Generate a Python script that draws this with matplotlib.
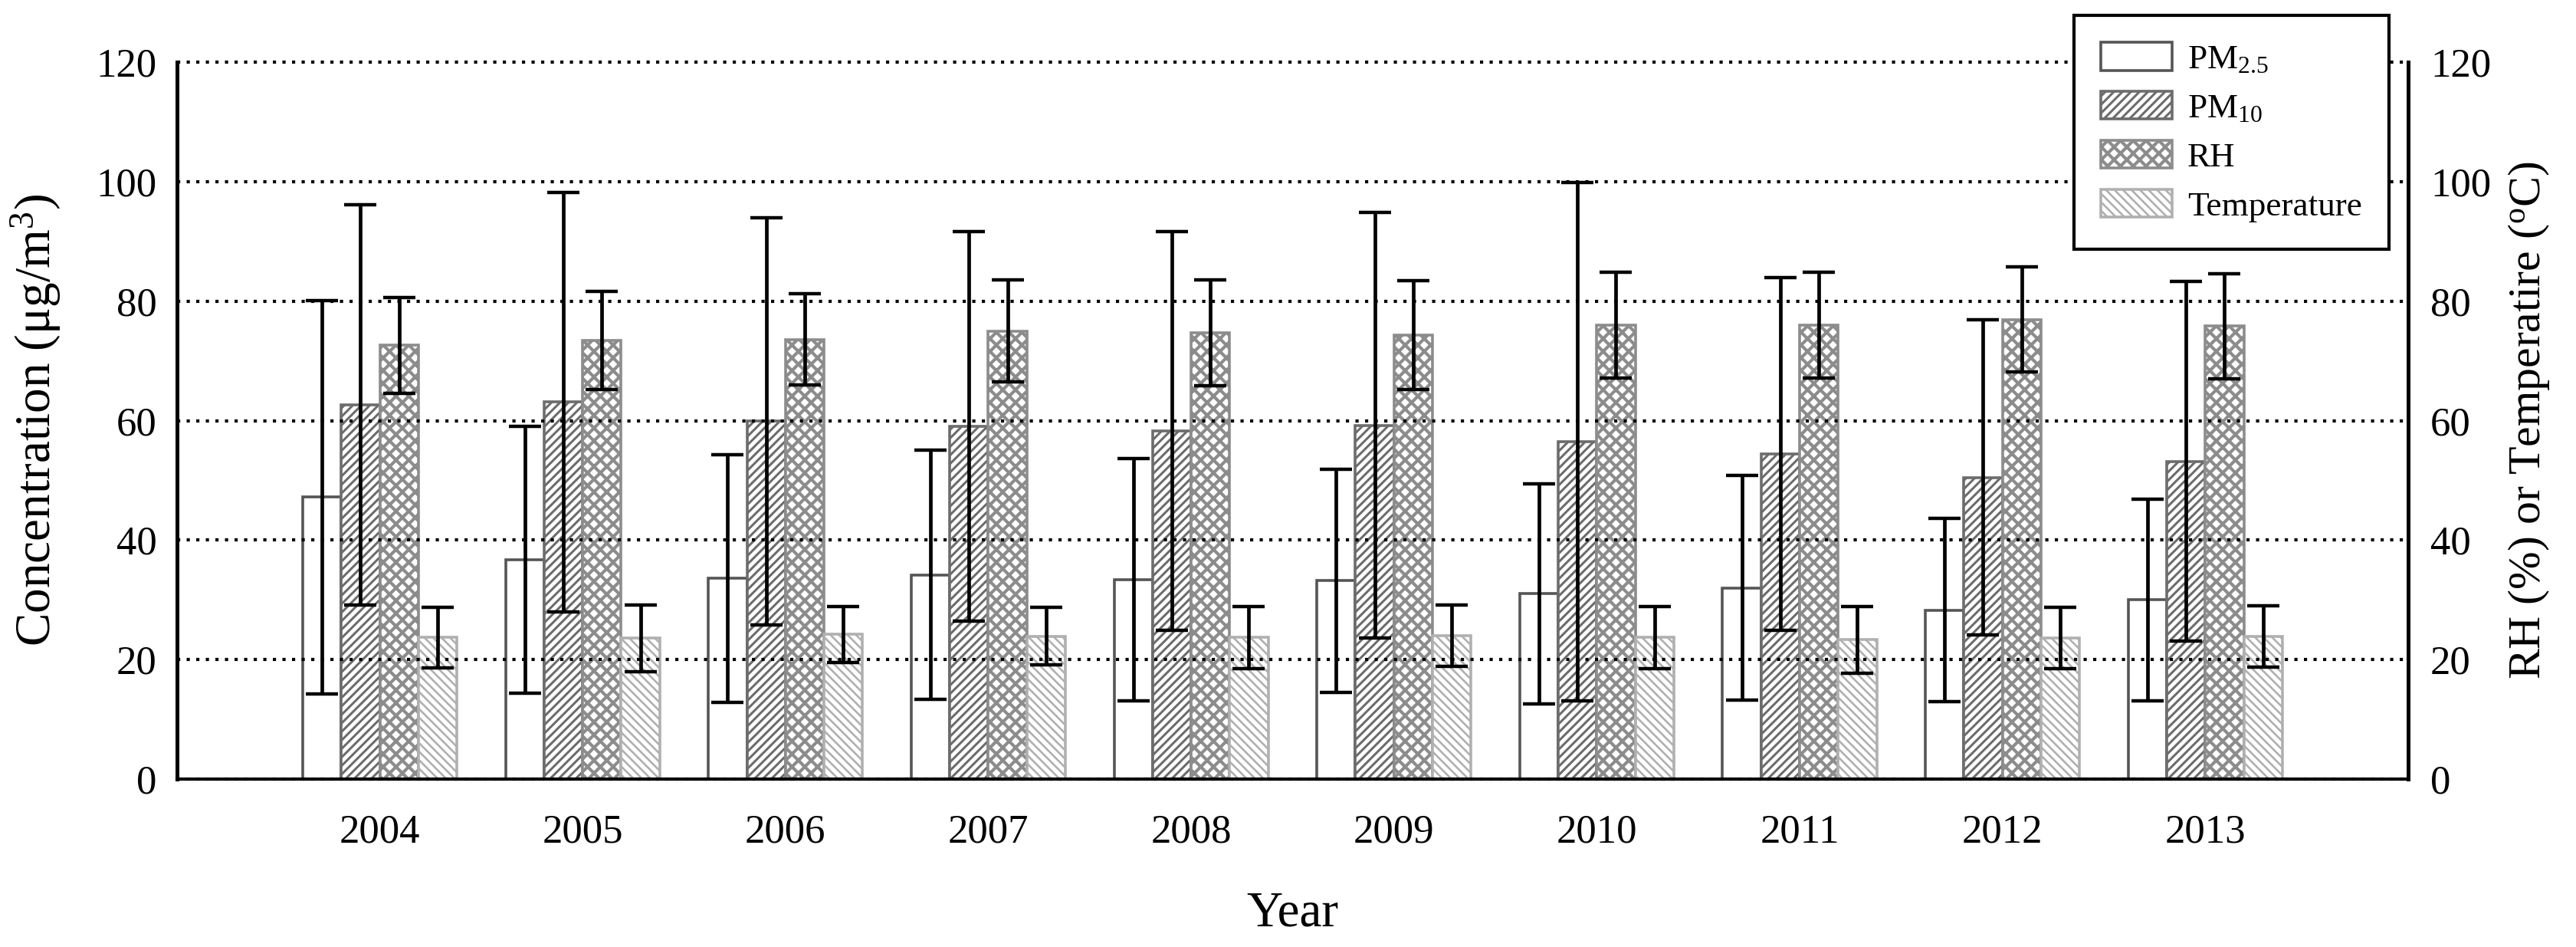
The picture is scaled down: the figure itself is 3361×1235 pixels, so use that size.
import matplotlib
matplotlib.use('Agg')
import matplotlib.pyplot as plt
import numpy as np

years = ['2004', '2005', '2006', '2007', '2008', '2009', '2010', '2011', '2012', '2013']
pm25_mean = [47.2, 36.7, 33.6, 34.2, 33.4, 33.2, 31.0, 32.0, 28.3, 30.0]
pm25_sd = [32.9, 22.3, 20.7, 20.9, 20.3, 18.7, 18.4, 18.8, 15.3, 16.9]
pm10_mean = [62.6, 63.1, 59.9, 59.1, 58.3, 59.2, 56.5, 54.4, 50.5, 53.2]
pm10_sd = [33.5, 35.1, 34.1, 32.6, 33.4, 35.6, 43.4, 29.5, 26.4, 30.1]
rh_mean = [72.6, 73.4, 73.6, 75.0, 74.7, 74.3, 76.0, 76.0, 76.9, 75.8]
rh_sd = [8.0, 8.2, 7.6, 8.5, 8.9, 9.1, 8.9, 8.9, 8.8, 8.8]
temp_mean = [23.7, 23.6, 24.2, 23.9, 23.7, 24.0, 23.7, 23.3, 23.6, 23.9]
temp_sd = [5.1, 5.6, 4.7, 4.8, 5.2, 5.1, 5.2, 5.6, 5.1, 5.1]
yticks = [0, 20, 40, 60, 80, 100, 120]

plt.rcParams['font.family'] = ['Liberation Serif', 'DejaVu Serif']
plt.rcParams['mathtext.fontset'] = 'custom'
plt.rcParams['mathtext.rm'] = 'Liberation Serif'
plt.rcParams['mathtext.it'] = 'Liberation Serif:italic'
plt.rcParams['mathtext.bf'] = 'Liberation Serif:bold'


def apply_hatch_lw(patch, lw):
    if hasattr(patch, 'set_hatch_linewidth'):
        patch.set_hatch_linewidth(lw)
    orig = patch.draw

    def draw(renderer, _orig=orig, _lw=lw):
        with plt.rc_context({'hatch.linewidth': _lw}):
            _orig(renderer)
    patch.draw = draw


fig = plt.figure(figsize=(33.61, 12.35), dpi=100)
ax = fig.add_axes([0.0687, 0.1773, 0.9348 - 0.0687, 0.9344 - 0.1773])

x = np.arange(len(years))
w = 0.19
specs = [
    (pm25_mean, pm25_sd, 'PM$_{2.5}$', '#555555', None, 1.0),
    (pm10_mean, pm10_sd, 'PM$_{10}$', '#6c6c6c', '///', 2.2),
    (rh_mean, rh_sd, 'RH', '#8c8c8c', 'xx', 3.0),
    (temp_mean, temp_sd, 'Temperature', '#b0b0b0', '\\\\\\', 1.9),
]
handles = []
hlws = []
for i, (m, s, lab, ec, hatch, hlw) in enumerate(specs):
    pos = x + (i - 1.5) * w
    bars = ax.bar(pos, m, width=w, facecolor='white', edgecolor=ec, hatch=hatch,
                  linewidth=2.6, label=lab, zorder=1)
    for p in bars.patches:
        apply_hatch_lw(p, hlw)
    handles.append(bars)
    hlws.append(hlw)
    ax.errorbar(pos, m, yerr=s, fmt='none', ecolor='black', elinewidth=3.4,
                capsize=15, capthick=3.2, zorder=4)

ax.set_xlim(-1, 10)
ax.set_ylim(0, 120)
ax.set_yticks(yticks)
ax.set_xticks(x)
ax.set_xticklabels(years)
ax.tick_params(axis='both', length=0, labelsize=38)
ax.tick_params(axis='y', pad=19)
ax.tick_params(axis='x', pad=33)
ax.set_axisbelow(False)
ax.yaxis.grid(True, linestyle=(0, (1, 2)), color='black', linewidth=3.0, zorder=2.5)
for gl in ax.get_ygridlines():
    gl.set_clip_on(False)
for sp in ['top', 'right']:
    ax.spines[sp].set_visible(False)
ax.spines['left'].set_linewidth(3.6)
ax.spines['bottom'].set_linewidth(3.0)

ax.set_ylabel('Concentration (\u03bcg/m$^{3}$)', fontsize=47, va='center')
ax.yaxis.set_label_coords(-0.0632, 0.5)
ax.set_xlabel('Year', fontsize=47, va='center')
ax.xaxis.set_label_coords(0.5, -0.188)

ax2 = ax.twinx()
ax2.set_ylim(0, 120)
ax2.set_yticks(yticks)
ax2.tick_params(axis='y', length=0, labelsize=38, pad=21)
for sp in ['top', 'left', 'bottom']:
    ax2.spines[sp].set_visible(False)
ax2.spines['right'].set_linewidth(3.6)
ax2.set_ylabel('RH (%) or Temperatire ($^{\\mathrm{o}}$C)', fontsize=43, va='center')
ax2.yaxis.set_label_coords(1.0543, 0.5)

leg = fig.legend(handles=handles, loc='upper right', bbox_to_anchor=(0.9274, 0.9838),
                 borderaxespad=0, fontsize=32.5, frameon=True, fancybox=False,
                 edgecolor='black', handlelength=2.05, handleheight=0.86,
                 handletextpad=0.45, labelspacing=0.47, borderpad=0.78)
leg.get_frame().set_linewidth(3.0)
leg.get_frame().set_alpha(1)
for h, hlw in zip(leg.legend_handles, hlws):
    apply_hatch_lw(h, hlw)

fig.savefig('out.png', dpi=100)
